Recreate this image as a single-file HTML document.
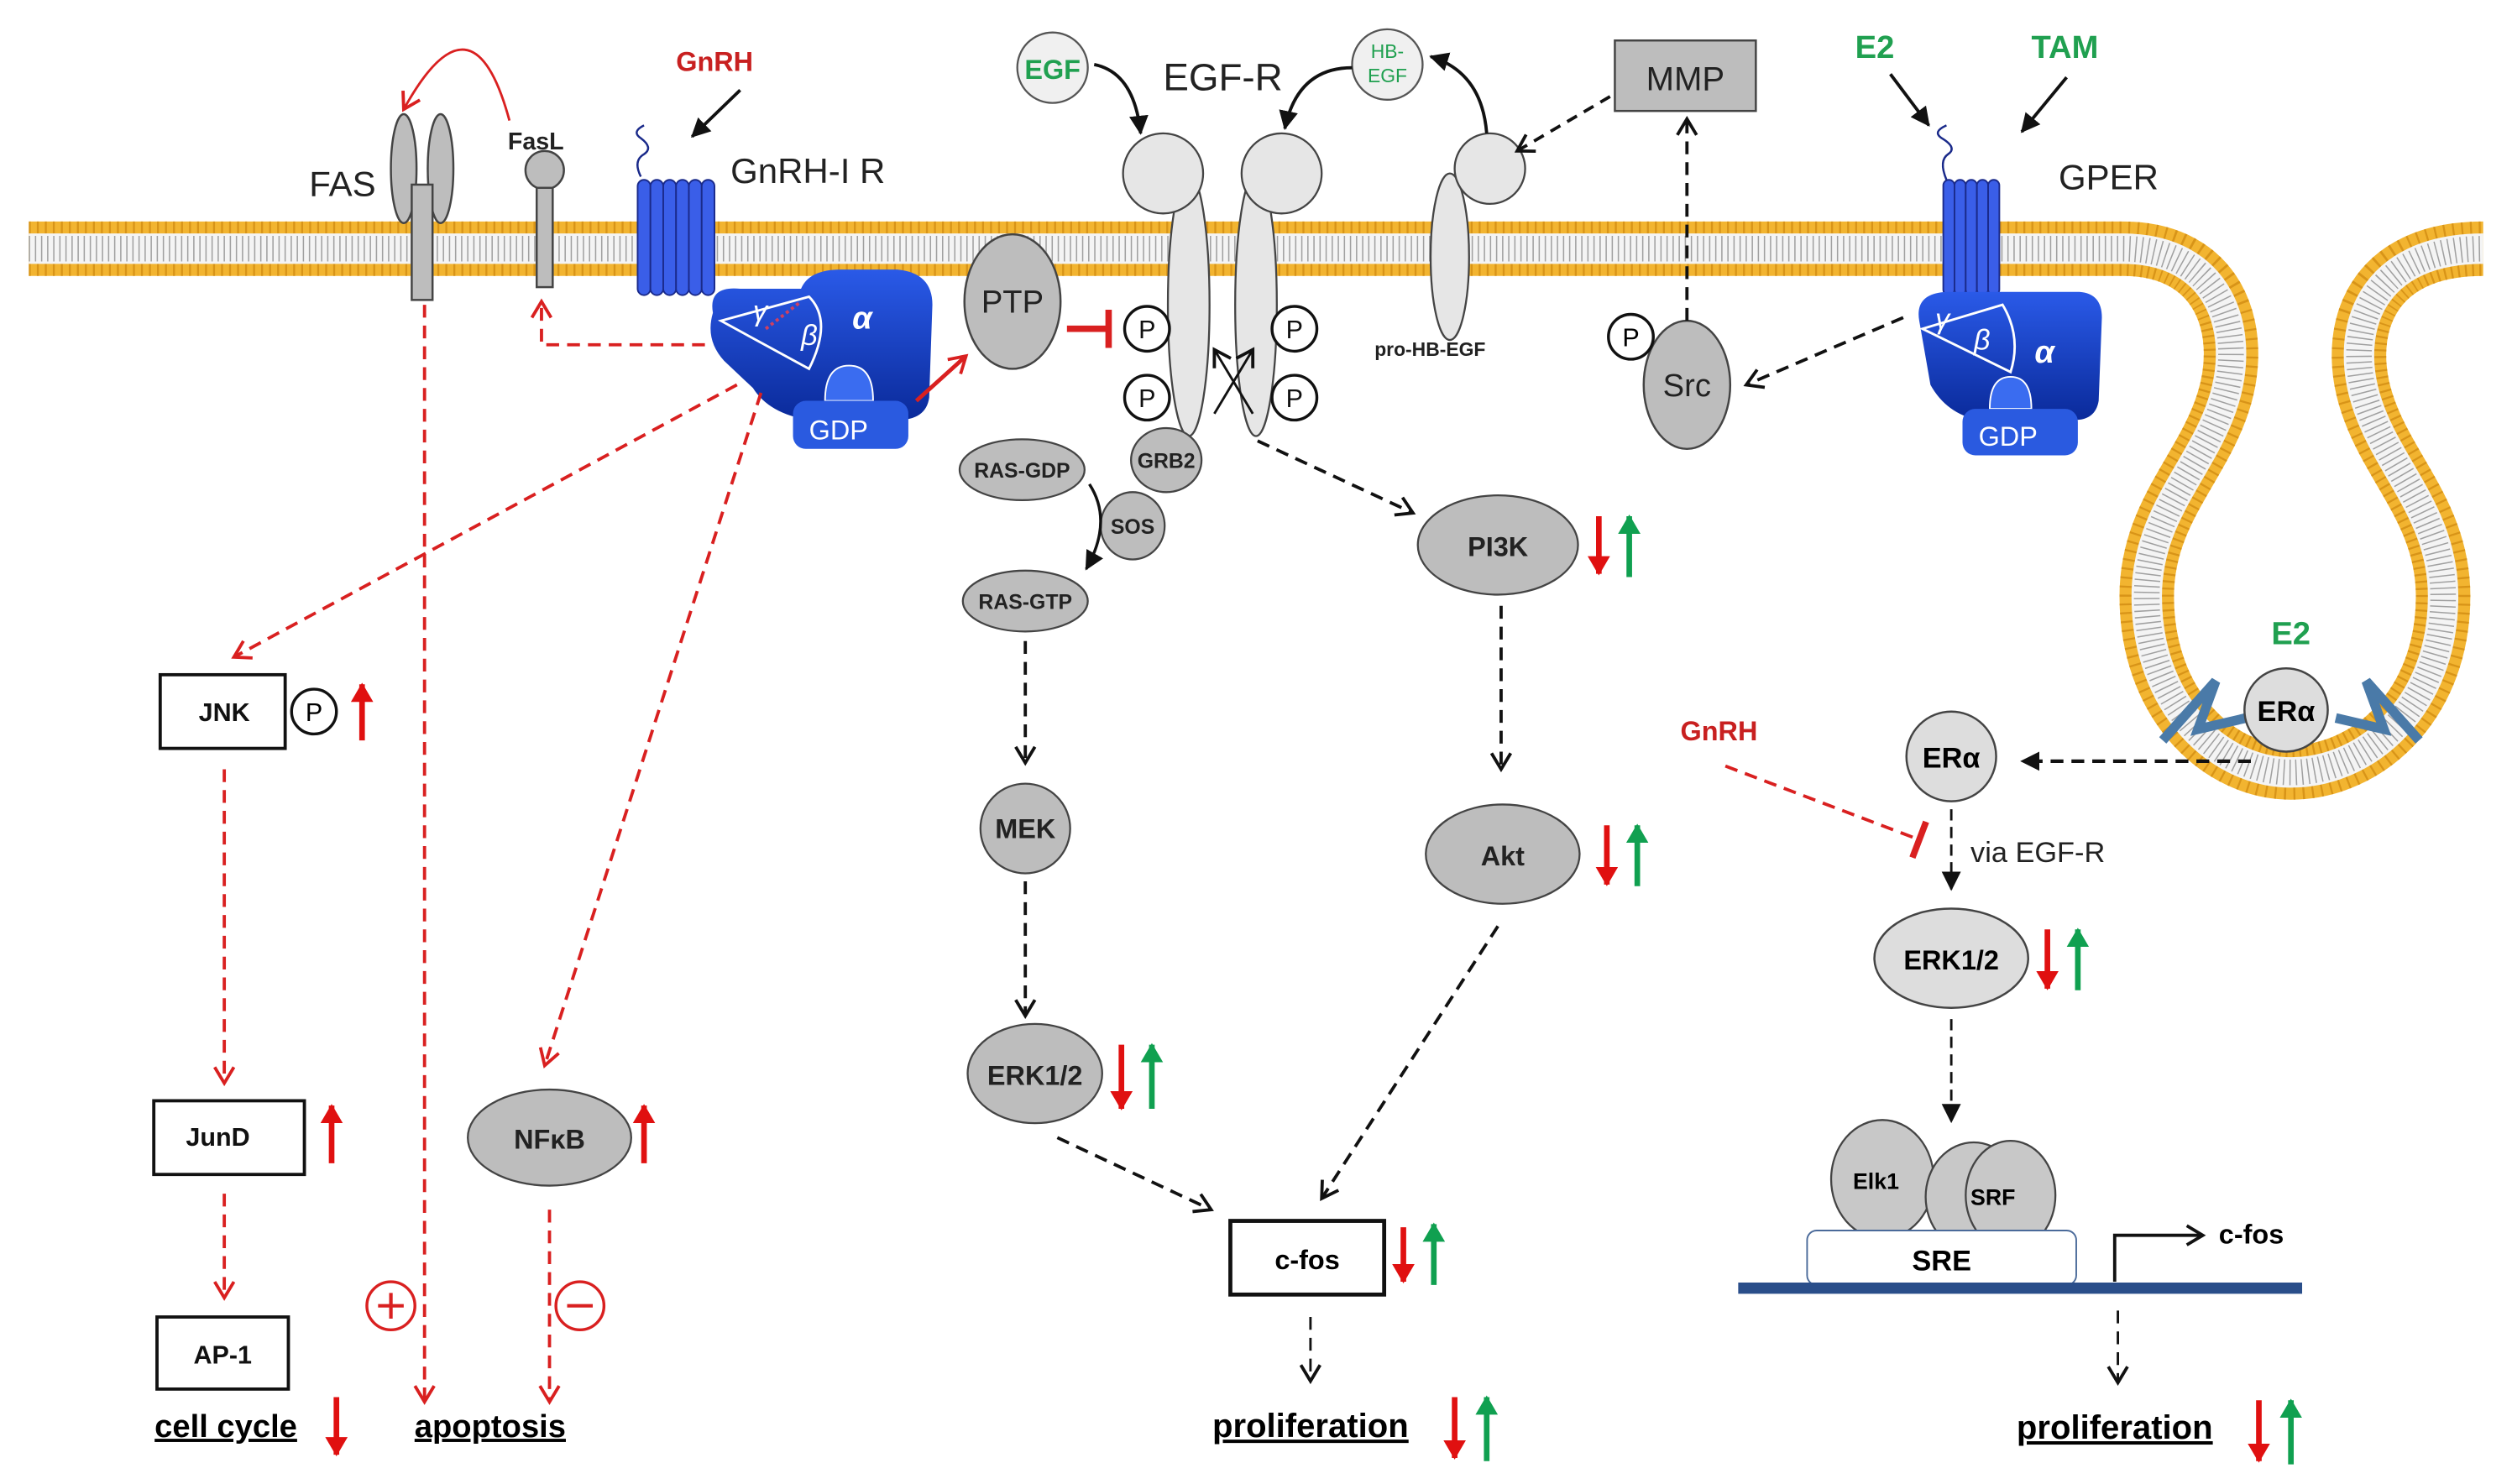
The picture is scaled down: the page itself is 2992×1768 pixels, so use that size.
<!DOCTYPE html>
<html><head><meta charset="utf-8"><style>
html,body{margin:0;padding:0;background:#fff}
svg{display:block}
text{font-family:"Liberation Sans",sans-serif}
.b{font-weight:bold}
</style></head><body>
<svg width="2992" height="1768" viewBox="0 0 1568 926" xmlns="http://www.w3.org/2000/svg">
<defs>
<path id="mem" d="M18 155 L1325 155 C1385 155 1402 205 1388 250 C1375 292 1340 320 1340 372 C1340 440 1385 482 1430 482 C1478 482 1525 440 1525 372 C1525 320 1490 292 1477 250 C1463 205 1480 155 1550 155"/>
<marker id="vK" markerUnits="userSpaceOnUse" markerWidth="16" markerHeight="16" refX="12" refY="8" orient="auto"><path d="M2 2 L12 8 L2 14" fill="none" stroke="#111" stroke-width="2"/></marker>
<marker id="vR" markerUnits="userSpaceOnUse" markerWidth="16" markerHeight="16" refX="12" refY="8" orient="auto"><path d="M2 2 L12 8 L2 14" fill="none" stroke="#d92020" stroke-width="2"/></marker>
<marker id="fK" markerUnits="userSpaceOnUse" markerWidth="14" markerHeight="14" refX="11" refY="7" orient="auto"><path d="M0 1 L12 7 L0 13 Z" fill="#111"/></marker>
<marker id="fR" markerUnits="userSpaceOnUse" markerWidth="14" markerHeight="14" refX="11" refY="7" orient="auto"><path d="M0 0 L12 7 L0 14 Z" fill="#e01010"/></marker>
<marker id="fG" markerUnits="userSpaceOnUse" markerWidth="14" markerHeight="14" refX="11" refY="7" orient="auto"><path d="M0 0 L12 7 L0 14 Z" fill="#10a050"/></marker>
<marker id="thR" markerUnits="userSpaceOnUse" markerWidth="12" markerHeight="24" refX="3" refY="12" orient="auto"><path d="M3 0 L3 24" stroke="#d92020" stroke-width="4"/></marker>
<linearGradient id="gb" x1="0" y1="0" x2="0" y2="1"><stop offset="0" stop-color="#2a5ae8"/><stop offset="1" stop-color="#0a2a9a"/></linearGradient>
</defs>

<!-- membrane -->
<g fill="none">
<use href="#mem" stroke="#f2b430" stroke-width="34"/>
<use href="#mem" stroke="#d89418" stroke-width="34" stroke-dasharray="1.2 3.8"/>
<use href="#mem" stroke="#f4f4f4" stroke-width="19"/>
<use href="#mem" stroke="#a0a0a0" stroke-width="16" stroke-dasharray="0.8 3"/>
</g>

<g stroke="#444" stroke-width="1.3" fill="#bdbdbd">
<ellipse cx="252" cy="105" rx="8" ry="34"/><ellipse cx="275" cy="105" rx="8" ry="34"/>
<rect x="257" y="115" width="13" height="72"/>
<circle cx="340" cy="106" r="12"/><rect x="335" y="117" width="10" height="62"/>
</g>
<path d="M318 75 Q295 -10 252 68" fill="none" stroke="#d92020" stroke-width="1.5" marker-end="url(#vR)"/>
<text x="193" y="122" font-size="22" fill="#222">FAS</text>
<text x="317" y="93" font-size="15" class="b" fill="#222">FasL</text>
<text x="422" y="44" font-size="17" class="b" fill="#c82020">GnRH</text>
<line x1="462" y1="56" x2="432" y2="85" stroke="#111" stroke-width="2" marker-end="url(#fK)"/>

<path d="M400 110 Q395 100 402 96 Q408 92 400 86 Q394 82 402 78" fill="none" stroke="#1a2a8a" stroke-width="1.3"/>
<g fill="#3a5ee8" stroke="#1a2a8a" stroke-width="1">
<rect x="398" y="112" width="8" height="72" rx="4"/><rect x="406" y="112" width="8" height="72" rx="4"/><rect x="414" y="112" width="8" height="72" rx="4"/><rect x="422" y="112" width="8" height="72" rx="4"/><rect x="430" y="112" width="8" height="72" rx="4"/><rect x="438" y="112" width="8" height="72" rx="4"/>
</g>
<text x="456" y="114" font-size="22" fill="#222">GnRH-I R</text>
<path d="M445 195 Q442 178 462 180 L500 180 Q505 168 525 168 L560 168 Q582 170 582 190 L580 248 Q578 262 560 262 L505 262 Q480 258 470 242 L452 225 Q440 212 445 195 Z" fill="url(#gb)"/>
<path d="M450 200 L505 230 Q520 200 505 185 Z" fill="none" stroke="#fff" stroke-width="1.5"/>
<line x1="478" y1="205" x2="500" y2="188" stroke="#d04060" stroke-width="2" stroke-dasharray="2 2"/>
<text x="470" y="200" font-size="18" fill="#fff" font-style="italic">γ</text>
<text x="500" y="215" font-size="18" fill="#fff" font-style="italic">β</text>
<text x="532" y="205" font-size="20" fill="#fff" class="b" font-style="italic">α</text>
<path d="M515 250 Q515 228 530 228 Q545 228 545 250 Z" fill="#3a6cf0" stroke="#fff" stroke-width="1"/>
<rect x="495" y="250" width="72" height="30" rx="8" fill="#2a5ae0"/>
<text x="505" y="274" font-size="17" fill="#fff">GDP</text>
<path d="M440 215 L338 215 L338 188" fill="none" stroke="#d92020" stroke-width="2" stroke-dasharray="8 5" marker-end="url(#vR)"/>
<line x1="572" y1="250" x2="603" y2="222" stroke="#d92020" stroke-width="2.5" marker-end="url(#vR)"/>

<ellipse cx="632" cy="188" rx="30" ry="42" fill="#bdbdbd" stroke="#444" stroke-width="1.3"/>
<text x="632" y="195" font-size="20" text-anchor="middle" fill="#222">PTP</text>
<line x1="666" y1="205" x2="692" y2="205" stroke="#d92020" stroke-width="4" marker-end="url(#thR)"/>

<circle cx="657" cy="42" r="22" fill="#f0f0f0" stroke="#555" stroke-width="1.2"/>
<text x="657" y="49" font-size="17" text-anchor="middle" fill="#20a050" class="b">EGF</text>
<text x="726" y="56" font-size="24" fill="#222">EGF-R</text>
<path d="M683 40 Q708 45 712 83" fill="none" stroke="#111" stroke-width="2" marker-end="url(#fK)"/>
<circle cx="866" cy="40" r="22" fill="#f0f0f0" stroke="#555" stroke-width="1.2"/>
<text x="866" y="36" font-size="12" text-anchor="middle" fill="#20a050">HB-</text>
<text x="866" y="51" font-size="12" text-anchor="middle" fill="#20a050">EGF</text>
<path d="M844 42 Q810 42 802 80" fill="none" stroke="#111" stroke-width="2" marker-end="url(#fK)"/>
<rect x="1008" y="25" width="88" height="44" fill="#bdbdbd" stroke="#444" stroke-width="1.3"/>
<text x="1052" y="56" font-size="21" text-anchor="middle" fill="#222">MMP</text>

<g fill="#e6e6e6" stroke="#444" stroke-width="1.2">
<ellipse cx="742" cy="190" rx="13" ry="82"/><ellipse cx="784" cy="190" rx="13" ry="82"/>
<circle cx="726" cy="108" r="25"/><circle cx="800" cy="108" r="25"/>
</g>
<g fill="#fff" stroke="#111" stroke-width="1.8">
<circle cx="716" cy="205" r="14"/><circle cx="716" cy="248" r="14"/><circle cx="808" cy="205" r="14"/><circle cx="808" cy="248" r="14"/>
</g>
<g font-size="16" text-anchor="middle" fill="#111"><text x="716" y="211">P</text><text x="716" y="254">P</text><text x="808" y="211">P</text><text x="808" y="254">P</text></g>
<line x1="758" y1="258" x2="782" y2="218" stroke="#111" stroke-width="1.5" marker-end="url(#vK)"/>
<line x1="782" y1="258" x2="758" y2="218" stroke="#111" stroke-width="1.5" marker-end="url(#vK)"/>

<g fill="#e6e6e6" stroke="#444" stroke-width="1.2">
<ellipse cx="905" cy="160" rx="12" ry="52"/><circle cx="930" cy="105" r="22"/>
</g>
<path d="M928 83 Q925 45 893 35" fill="none" stroke="#111" stroke-width="2" marker-end="url(#fK)"/>
<text x="858" y="222" font-size="12" class="b" fill="#222">pro-HB-EGF</text>
<line x1="1005" y1="60" x2="947" y2="94" stroke="#111" stroke-width="2" stroke-dasharray="7 5" marker-end="url(#vK)"/>

<ellipse cx="1053" cy="240" rx="27" ry="40" fill="#bdbdbd" stroke="#444" stroke-width="1.3"/>
<text x="1053" y="247" font-size="20" text-anchor="middle" fill="#222">Src</text>
<circle cx="1018" cy="210" r="14" fill="#fff" stroke="#111" stroke-width="1.8"/>
<text x="1018" y="216" font-size="16" text-anchor="middle">P</text>
<line x1="1053" y1="200" x2="1053" y2="74" stroke="#111" stroke-width="2" stroke-dasharray="8 5" marker-end="url(#vK)"/>
<line x1="1188" y1="198" x2="1090" y2="240" stroke="#111" stroke-width="2" stroke-dasharray="8 5" marker-end="url(#vK)"/>

<text x="1158" y="36" font-size="20" class="b" fill="#20a050">E2</text>
<text x="1268" y="36" font-size="20" class="b" fill="#20a050">TAM</text>
<line x1="1180" y1="46" x2="1204" y2="78" stroke="#111" stroke-width="2" marker-end="url(#fK)"/>
<line x1="1290" y1="48" x2="1262" y2="82" stroke="#111" stroke-width="2" marker-end="url(#fK)"/>
<path d="M1215 112 Q1210 100 1216 96 Q1222 92 1212 86 Q1206 82 1215 78" fill="none" stroke="#1a2a8a" stroke-width="1.3"/>
<g fill="#3a5ee8" stroke="#1a2a8a" stroke-width="1">
<rect x="1213" y="112" width="7" height="72" rx="3.5"/><rect x="1220" y="112" width="7" height="72" rx="3.5"/><rect x="1227" y="112" width="7" height="72" rx="3.5"/><rect x="1234" y="112" width="7" height="72" rx="3.5"/><rect x="1241" y="112" width="7" height="72" rx="3.5"/>
</g>
<text x="1285" y="118" font-size="22" fill="#222">GPER</text>
<path d="M1198 200 Q1195 183 1215 182 L1298 182 Q1312 183 1312 198 L1310 250 Q1308 262 1295 262 L1235 262 Q1215 258 1205 240 Z" fill="url(#gb)"/>
<path d="M1200 205 L1255 232 Q1262 210 1250 190 Z" fill="none" stroke="#fff" stroke-width="1.5"/>
<text x="1208" y="205" font-size="18" fill="#fff" font-style="italic">γ</text>
<text x="1232" y="218" font-size="18" fill="#fff" font-style="italic">β</text>
<text x="1270" y="226" font-size="20" fill="#fff" class="b" font-style="italic">α</text>
<path d="M1242 255 Q1242 235 1255 235 Q1268 235 1268 255 Z" fill="#3a6cf0" stroke="#fff"/>
<rect x="1225" y="255" width="72" height="29" rx="8" fill="#2a5ae0"/>
<text x="1235" y="278" font-size="17" fill="#fff">GDP</text>

<g fill="#bdbdbd" stroke="#444" stroke-width="1.2">
<ellipse cx="728" cy="287" rx="22" ry="20"/>
<ellipse cx="638" cy="293" rx="39" ry="19"/>
<ellipse cx="707" cy="328" rx="20" ry="21"/>
<ellipse cx="640" cy="375" rx="39" ry="19"/>
<circle cx="640" cy="517" r="28"/>
<ellipse cx="646" cy="670" rx="42" ry="31"/>
<ellipse cx="935" cy="340" rx="50" ry="31"/>
<ellipse cx="938" cy="533" rx="48" ry="31"/>
<ellipse cx="343" cy="710" rx="51" ry="30"/>
</g>
<g font-size="13" class="b" text-anchor="middle" fill="#222">
<text x="728" y="292">GRB2</text><text x="638" y="298">RAS-GDP</text><text x="707" y="333">SOS</text><text x="640" y="380">RAS-GTP</text>
</g>
<path d="M680 302 Q695 325 678 355" fill="none" stroke="#111" stroke-width="1.8" marker-end="url(#fK)"/>
<g font-size="17" class="b" text-anchor="middle" fill="#222">
<text x="640" y="523">MEK</text><text x="646" y="677">ERK1/2</text><text x="935" y="347">PI3K</text><text x="938" y="540">Akt</text><text x="343" y="717">NFκB</text>
</g>
<g stroke="#111" stroke-width="2" stroke-dasharray="8 5" fill="none">
<line x1="640" y1="400" x2="640" y2="476" marker-end="url(#vK)"/>
<line x1="640" y1="550" x2="640" y2="634" marker-end="url(#vK)"/>
<line x1="660" y1="710" x2="756" y2="755" marker-end="url(#vK)"/>
<line x1="785" y1="275" x2="882" y2="320" marker-end="url(#vK)"/>
<line x1="937" y1="378" x2="937" y2="480" marker-end="url(#vK)"/>
<line x1="935" y1="578" x2="825" y2="748" marker-end="url(#vK)"/>
</g>
<line x1="818" y1="822" x2="818" y2="862" stroke="#111" stroke-width="1.5" stroke-dasharray="8 5" marker-end="url(#vK)"/>
<rect x="768" y="762" width="96" height="46" fill="#fff" stroke="#111" stroke-width="2.5"/>
<text x="816" y="792" font-size="17" class="b" text-anchor="middle">c-fos</text>
<text x="818" y="897" font-size="21" class="b" text-anchor="middle" text-decoration="underline">proliferation</text>

<g stroke-width="3.5">
<line x1="700" y1="652" x2="700" y2="692" stroke="#e01010" marker-end="url(#fR)"/><line x1="719" y1="692" x2="719" y2="652" stroke="#10a050" marker-end="url(#fG)"/>
<line x1="876" y1="766" x2="876" y2="800" stroke="#e01010" marker-end="url(#fR)"/><line x1="895" y1="802" x2="895" y2="764" stroke="#10a050" marker-end="url(#fG)"/>
<line x1="908" y1="872" x2="908" y2="910" stroke="#e01010" marker-end="url(#fR)"/><line x1="928" y1="912" x2="928" y2="872" stroke="#10a050" marker-end="url(#fG)"/>
<line x1="998" y1="322" x2="998" y2="358" stroke="#e01010" marker-end="url(#fR)"/><line x1="1017" y1="360" x2="1017" y2="322" stroke="#10a050" marker-end="url(#fG)"/>
<line x1="1003" y1="515" x2="1003" y2="552" stroke="#e01010" marker-end="url(#fR)"/><line x1="1022" y1="553" x2="1022" y2="515" stroke="#10a050" marker-end="url(#fG)"/>
<line x1="1278" y1="580" x2="1278" y2="617" stroke="#e01010" marker-end="url(#fR)"/><line x1="1297" y1="618" x2="1297" y2="580" stroke="#10a050" marker-end="url(#fG)"/>
<line x1="1410" y1="874" x2="1410" y2="912" stroke="#e01010" marker-end="url(#fR)"/><line x1="1430" y1="914" x2="1430" y2="874" stroke="#10a050" marker-end="url(#fG)"/>
<line x1="226" y1="462" x2="226" y2="427" stroke="#e01010" marker-end="url(#fR)"/>
<line x1="207" y1="726" x2="207" y2="690" stroke="#e01010" marker-end="url(#fR)"/>
<line x1="402" y1="726" x2="402" y2="690" stroke="#e01010" marker-end="url(#fR)"/>
<line x1="210" y1="872" x2="210" y2="908" stroke="#e01010" marker-end="url(#fR)"/>
</g>

<g stroke="#d92020" stroke-width="2" stroke-dasharray="8 5" fill="none">
<line x1="460" y1="240" x2="146" y2="410" marker-end="url(#vR)"/>
<line x1="265" y1="190" x2="265" y2="875" marker-end="url(#vR)"/>
<line x1="475" y1="245" x2="340" y2="665" marker-end="url(#vR)"/>
<line x1="140" y1="480" x2="140" y2="676" marker-end="url(#vR)"/>
<line x1="140" y1="745" x2="140" y2="810" marker-end="url(#vR)"/>
<line x1="343" y1="755" x2="343" y2="875" marker-end="url(#vR)"/>
</g>
<g fill="#fff" stroke="#111" stroke-width="2">
<rect x="100" y="421" width="78" height="46"/><rect x="96" y="687" width="94" height="46"/><rect x="98" y="822" width="82" height="45"/>
<circle cx="196" cy="444" r="14" stroke-width="1.8"/>
</g>
<g font-size="16" class="b" text-anchor="middle" fill="#111">
<text x="140" y="450">JNK</text><text x="136" y="715">JunD</text><text x="139" y="851">AP-1</text>
</g>
<text x="196" y="450" font-size="16" text-anchor="middle">P</text>
<g fill="#fff" stroke="#d92020" stroke-width="1.8"><circle cx="244" cy="815" r="15"/><circle cx="362" cy="815" r="15"/></g>
<path d="M236 815 H252 M244 807 V823 M354 815 H370" stroke="#d92020" stroke-width="2.2"/>
<text x="141" y="897" font-size="20" class="b" text-anchor="middle" text-decoration="underline">cell cycle</text>
<text x="306" y="897" font-size="20" class="b" text-anchor="middle" text-decoration="underline">apoptosis</text>

<!-- ER alpha in pocket with zigzags -->
<path d="M1350 462 L1383 425 L1372 455 L1402 448" fill="none" stroke="#4a7aa8" stroke-width="6" stroke-linejoin="miter"/>
<path d="M1510 462 L1477 425 L1488 455 L1458 448" fill="none" stroke="#4a7aa8" stroke-width="6" stroke-linejoin="miter"/>
<circle cx="1427" cy="443" r="26" fill="#ddd" stroke="#444" stroke-width="1.3"/>
<text x="1427" y="450" font-size="18" class="b" text-anchor="middle">ERα</text>
<text x="1430" y="402" font-size="20" class="b" text-anchor="middle" fill="#20a050">E2</text>
<text x="1073" y="462" font-size="17" class="b" text-anchor="middle" fill="#c82020">GnRH</text>
<line x1="1077" y1="478" x2="1198" y2="524" stroke="#d92020" stroke-width="2" stroke-dasharray="8 5" marker-end="url(#thR)"/>
<circle cx="1218" cy="472" r="28" fill="#ddd" stroke="#444" stroke-width="1.3"/>
<text x="1218" y="479" font-size="18" class="b" text-anchor="middle">ERα</text>
<line x1="1405" y1="475" x2="1262" y2="475" stroke="#111" stroke-width="2.2" stroke-dasharray="8 5" marker-end="url(#fK)"/>
<line x1="1218" y1="505" x2="1218" y2="555" stroke="#111" stroke-width="1.5" stroke-dasharray="7 4" marker-end="url(#fK)"/>
<text x="1230" y="538" font-size="18" fill="#222">via EGF-R</text>
<ellipse cx="1218" cy="598" rx="48" ry="31" fill="#ddd" stroke="#444" stroke-width="1.3"/>
<text x="1218" y="605" font-size="17" class="b" text-anchor="middle">ERK1/2</text>
<line x1="1218" y1="636" x2="1218" y2="700" stroke="#111" stroke-width="1.5" stroke-dasharray="7 4" marker-end="url(#fK)"/>
<g fill="#c8c8c8" stroke="#444" stroke-width="1.2">
<ellipse cx="1175" cy="736" rx="32" ry="37"/><ellipse cx="1232" cy="747" rx="30" ry="34"/><ellipse cx="1255" cy="746" rx="28" ry="34"/>
</g>
<text x="1171" y="742" font-size="14" class="b" text-anchor="middle">Elk1</text>
<text x="1244" y="752" font-size="14" class="b" text-anchor="middle">SRF</text>
<rect x="1128" y="768" width="168" height="34" rx="6" fill="#fff" stroke="#4a6a9a" stroke-width="1"/>
<text x="1212" y="793" font-size="18" class="b" text-anchor="middle">SRE</text>
<line x1="1085" y1="804" x2="1437" y2="804" stroke="#2a4e8a" stroke-width="7"/>
<path d="M1320 800 V771 H1375" fill="none" stroke="#111" stroke-width="2" marker-end="url(#vK)"/>
<text x="1385" y="776" font-size="17" class="b">c-fos</text>
<line x1="1322" y1="818" x2="1322" y2="863" stroke="#111" stroke-width="1.5" stroke-dasharray="8 5" marker-end="url(#vK)"/>
<text x="1320" y="898" font-size="21" class="b" text-anchor="middle" text-decoration="underline">proliferation</text>
</svg>
</body></html>
